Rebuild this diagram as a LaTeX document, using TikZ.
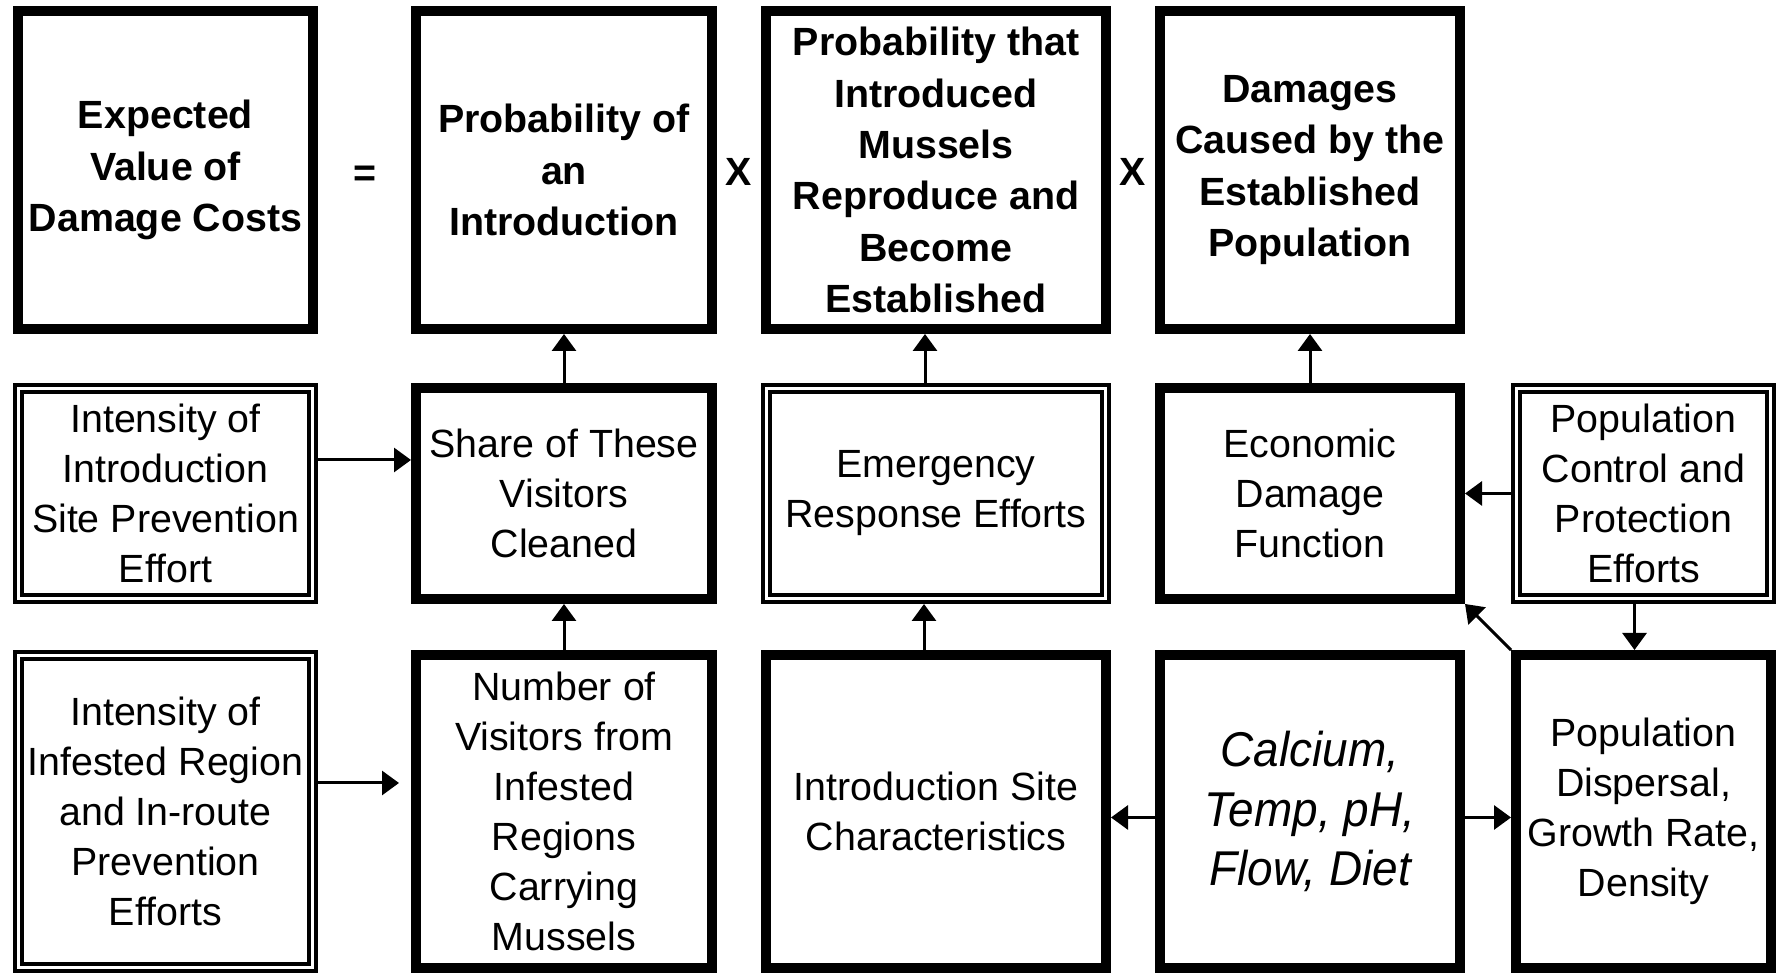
\documentclass[tikz,border=0pt]{standalone}
\usepackage{fontspec}
\setmainfont{Liberation Sans}
\newfontfamily\narrowfont[FakeStretch=0.94]{Liberation Sans}
\usetikzlibrary{arrows.meta}

\begin{document}
\begin{tikzpicture}[
        mainbox/.style={draw, line width=1mm, inner sep=0pt, align=center, font=\fontsize{11.2}{14.6}\selectfont\bfseries},
        factorbox/.style={draw, line width=1mm, inner sep=0pt, align=center, font=\fontsize{11.2}{14.2}\selectfont},
        effortbox/.style={draw, double, line width=0.4mm, double distance=0.3mm, outer sep=0.55mm, inner sep=0pt, align=center, font=\fontsize{11.2}{14.2}\selectfont},
        op/.style={font=\fontsize{11.2}{14.6}\selectfont\bfseries},
        link/.style={line width=0.3mm, -{Triangle[length=1.7mm, width=2.4mm]}}
    ]
            \useasboundingbox (0,0) rectangle (17.79,9.74);

            % Top row - the product
            \node[mainbox, minimum width=2.95cm, minimum height=3.18cm] (expected) at (1.655,8.04) {Expected\\Value of\\Damage Costs};
            \node[mainbox, minimum width=2.96cm, minimum height=3.18cm] (prob) at (5.64,8.04) {Probability of\\an\\Introduction};
            \node[mainbox, minimum width=3.40cm, minimum height=3.18cm] (estab) at (9.36,8.04) {Probability that\\Introduced\\Mussels\\Reproduce and\\Become\\Established};
            \node[mainbox, minimum width=3.00cm, minimum height=3.18cm] (damages) at (13.10,8.04) {Damages\\Caused by the\\Established\\Population};
            \node[op] (equals) at (3.645,7.98) {=};
            \node[op] (timesA) at (7.39,8.02) {X};
            \node[op] (timesB) at (11.33,8.02) {X};

            % Middle row - efforts and functions
            \node[effortbox, minimum width=2.94cm, minimum height=2.10cm] (sitefx) at (1.655,4.805) {Intensity of\\Introduction\\Site Prevention\\Effort};
            \node[factorbox, minimum width=2.96cm, minimum height=2.11cm] (share) at (5.64,4.805) {Share of These\\Visitors\\Cleaned};
            \node[effortbox, minimum width=3.39cm, minimum height=2.10cm] (emerg) at (9.36,4.805) {Emergency\\Response Efforts};
            \node[factorbox, minimum width=3.00cm, minimum height=2.11cm] (econ) at (13.10,4.805) {Economic\\Damage\\Function};
            \node[effortbox, minimum width=2.54cm, minimum height=2.10cm] (popctl) at (16.435,4.805) {Population\\Control and\\Protection\\Efforts};

            % Bottom row - drivers
            \node[effortbox, minimum width=2.94cm, minimum height=3.12cm] (routefx) at (1.655,1.625) {Intensity of\\Infested Region\\and In-route\\Prevention\\Efforts};
            \node[factorbox, minimum width=2.96cm, minimum height=3.13cm] (visitors) at (5.64,1.625) {Number of\\Visitors from\\Infested\\Regions\\Carrying\\Mussels};
            \node[factorbox, minimum width=3.40cm, minimum height=3.13cm] (sitechar) at (9.36,1.625) {Introduction Site\\Characteristics};
            \node[factorbox, minimum width=3.00cm, minimum height=3.13cm, font=\fontsize{13.9}{17}\selectfont\narrowfont\itshape] (water) at (13.10,1.625) {Calcium,\\Temp, pH,\\Flow, Diet};
            \node[factorbox, minimum width=2.55cm, minimum height=3.13cm] (popdyn) at (16.435,1.625) {Population\\Dispersal,\\Growth Rate,\\Density};

            % Arrows
            \draw[link] (share.north) -- (prob.south);
            \draw[link] (visitors.north) -- (share.south);
            \draw[link] ([xshift=-1.1mm]emerg.north) -- ([xshift=-1.1mm]estab.south);
            \draw[link] ([xshift=-1.2mm]sitechar.north) -- ([xshift=-1.2mm]emerg.south);
            \draw[link] (econ.north) -- (damages.south);
            \draw[link] ([yshift=3.35mm]sitefx.east) -- ([yshift=3.35mm]share.west);
            \draw[link, shorten >=1.2mm] ([yshift=2.85mm]routefx.east) -- ([yshift=2.85mm]visitors.west);
            \draw[link] (popctl.west) -- (econ.east);
            \draw[link] ([xshift=-0.9mm]popctl.south) -- ([xshift=-0.9mm]popdyn.north);
            \draw[link] (popdyn.north west) -- (econ.south east);
            \draw[link] ([yshift=-0.6mm]water.west) -- ([yshift=-0.6mm]sitechar.east);
            \draw[link] ([yshift=-0.6mm]water.east) -- ([yshift=-0.6mm]popdyn.west);
\end{tikzpicture}
\end{document}
